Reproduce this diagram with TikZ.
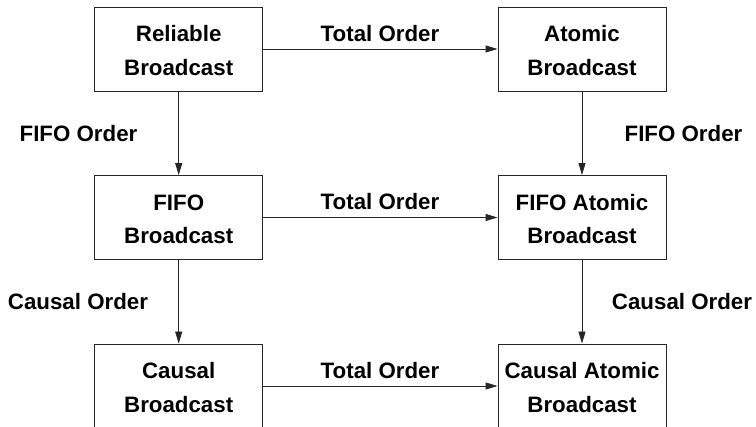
\documentclass[tikz,border=0pt]{standalone}
\usepackage{fontspec}
\setmainfont{Liberation Sans}
\usetikzlibrary{arrows.meta}
\begin{document}
\begin{tikzpicture}[x=1pt,y=-1pt,
  font=\fontsize{22.3}{33.3}\selectfont\bfseries,
  bcast/.style={draw=black!85, line width=0.9pt, minimum width=168pt, minimum height=84pt,
    align=center, inner sep=0pt, text height=52.4pt, text depth=0pt},
  conn/.style={draw=black!85, line width=0.9pt, -{Triangle[length=12pt,width=7pt]}},
  lbl/.style={inner sep=0pt}]
\useasboundingbox (0,0) rectangle (756,427);
% broadcast abstractions
\node[bcast] (rb)  at (178.7,49)  {Reliable\\Broadcast};
\node[bcast] (ab)  at (582,49)    {Atomic\\Broadcast};
\node[bcast] (fb)  at (178.7,217.5) {FIFO\\Broadcast};
\node[bcast] (fab) at (582,217.5) {FIFO Atomic\\Broadcast};
\node[bcast] (cb)  at (178.7,386) {Causal\\Broadcast};
\node[bcast] (cab) at (582,386)   {Causal Atomic\\Broadcast};
% ordering properties
\draw[conn] (rb) -- (ab);
\draw[conn] (fb) -- (fab);
\draw[conn] (cb) -- (cab);
\draw[conn] (rb) -- (fb);
\draw[conn] (fb) -- (cb);
\draw[conn] (ab) -- (fab);
\draw[conn] (fab) -- (cab);
% labels
\node[lbl] (t1) at (380,33.5)  {Total Order};
\node[lbl] (t2) at (380,202) {Total Order};
\node[lbl] (t3) at (380,370.5) {Total Order};
\node[lbl] (f1) at (78.5,133.5) {FIFO Order};
\node[lbl] (f2) at (683.5,133.5) {FIFO Order};
\node[lbl] (c1) at (78,302) {Causal Order};
\node[lbl] (c2) at (682,302) {Causal Order};
\end{tikzpicture}
\end{document}
